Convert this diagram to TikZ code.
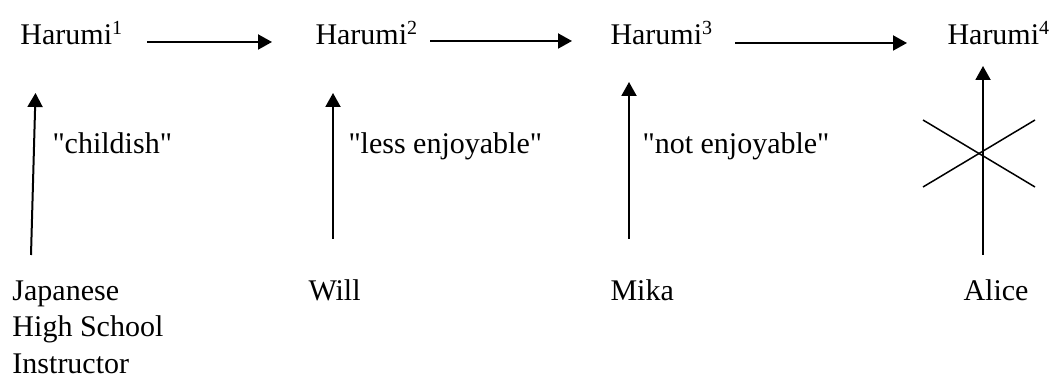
\documentclass[tikz,border=0pt]{standalone}
\usepackage{fontspec}
\setmainfont{Liberation Serif}[Ligatures=TeXOff]
\usetikzlibrary{arrows.meta}
\tikzset{
  lbl/.style={anchor=base west, inner sep=0pt, font=\fontsize{12}{14.4}\selectfont, align=left},
  arr/.style={line width=0.8pt, -{Triangle[length=5.6pt,width=6pt]}},
  cross/.style={line width=0.6pt}
}
\begin{document}
\begin{tikzpicture}[x=0.4pt, y=-0.4pt]
\useasboundingbox (0,0) rectangle (1057,378);
% top row
\node[lbl] (h1) at (20,45) {Harumi\textsuperscript{1}};
\node[lbl] (h2) at (315,45) {Harumi\textsuperscript{2}};
\node[lbl] (h3) at (610,45) {Harumi\textsuperscript{3}};
\node[lbl] (h4) at (947,45) {Harumi\textsuperscript{4}};
% bottom row (base anchor of a multi-line node is its last line)
\node[lbl] (p1) at (12,373) {Japanese\\High School\\Instructor};
\node[lbl] (p2) at (308,301) {Will};
\node[lbl] (p3) at (610,301) {Mika};
\node[lbl] (p4) at (963,301) {Alice};
% edge labels
\node[lbl] (l1) at (52,154) {"childish"};
\node[lbl] (l2) at (348,154) {"less enjoyable"};
\node[lbl] (l3) at (642,154) {"not enjoyable"};
% arrow end points
\coordinate (a1s) at (147,42); \coordinate (a1e) at (272,42);
\coordinate (a2s) at (430,41); \coordinate (a2e) at (572,41);
\coordinate (a3s) at (735,43); \coordinate (a3e) at (907,43);
\coordinate (v1s) at (31,255); \coordinate (v1e) at (35.5,93);
\coordinate (v2s) at (333,239); \coordinate (v2e) at (333,93);
\coordinate (v3s) at (629,239); \coordinate (v3e) at (629,82);
\coordinate (v4s) at (983,255); \coordinate (v4e) at (983,66);
\draw[arr] (a1s) -- (a1e);
\draw[arr] (a2s) -- (a2e);
\draw[arr] (a3s) -- (a3e);
\draw[arr] (v1s) -- (v1e);
\draw[arr] (v2s) -- (v2e);
\draw[arr] (v3s) -- (v3e);
\draw[arr] (v4s) -- (v4e);
% cross
\coordinate (xa) at (923,120); \coordinate (xb) at (1035,187);
\coordinate (xd) at (923,187); \coordinate (xe) at (1035,120);
\draw[cross] (xa) -- (xb);
\draw[cross] (xd) -- (xe);
\end{tikzpicture}
\end{document}
